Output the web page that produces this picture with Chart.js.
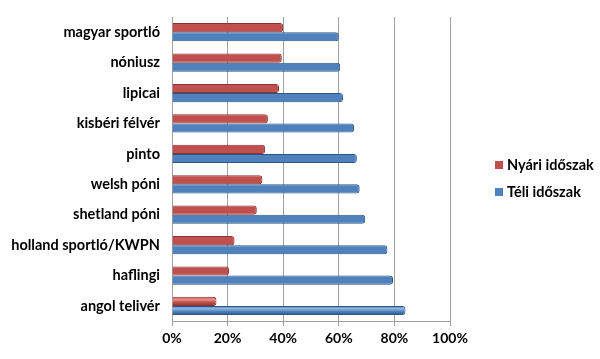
<!DOCTYPE html>
<html>
<head>
<meta charset="utf-8">
<script src="https://cdn.jsdelivr.net/npm/chart.js@4/dist/chart.umd.min.js"></script>
<style>
html,body{margin:0;padding:0;background:#fff;}
#wrap{width:600px;height:359px;position:relative;}
#legend{position:absolute;left:495px;top:155px;font-family:Lato,"Open Sans",sans-serif;font-weight:bold;font-size:14.5px;color:#000;}
#legend .item{position:relative;height:27px;line-height:20px;padding-left:12px;white-space:nowrap;}
#legend .sw{position:absolute;left:0;top:6px;width:8px;height:8px;}
</style>
</head>
<body>
<div id="wrap"><canvas id="c" width="600" height="359"></canvas><div id="legend"></div></div>
<script>
const categories = ["magyar sportló","nóniusz","lipicai","kisbéri félvér","pinto","welsh póni","shetland póni","holland sportló/KWPN","haflingi","angol telivér"];
const summerValues = [40, 39.5, 38.5, 34.5, 33.5, 32.5, 30.5, 22.5, 20.5, 16];
const winterValues = [60, 60.5, 61.5, 65.5, 66.5, 67.5, 69.5, 77.5, 79.5, 84];
const seriesNames = ["Nyári időszak", "Téli időszak"];
const xTicks = [0, 20, 40, 60, 80, 100];

const shades = [
  {light:'#e8908e', base:'#c0504d', dark:'#8a3331'},
  {light:'#92b6e3', base:'#4f81bd', dark:'#2c5587'}
];

const cylinder = {
  id:'cylinder',
  beforeDatasetsDraw(chart){
    const ctx = chart.ctx;
    chart.data.datasets.forEach((ds,i)=>{
      const meta = chart.getDatasetMeta(i);
      const s = shades[i];
      meta.data.forEach(el=>{
        const top = el.y - el.height/2, bot = el.y + el.height/2;
        const g = ctx.createLinearGradient(0, top, 0, bot);
        g.addColorStop(0, s.base);
        g.addColorStop(0.3, s.light);
        g.addColorStop(0.6, s.base);
        g.addColorStop(1, s.dark);
        el.options.backgroundColor = g;
      });
    });
  }
};

Chart.defaults.font.family = 'Lato, "Open Sans", sans-serif';
Chart.defaults.color = '#000';

const chart = new Chart(document.getElementById('c'), {
  type:'bar',
  data:{
    labels: categories,
    datasets:[
      {label: seriesNames[0], data: summerValues, backgroundColor: shades[0].base, borderColor: shades[0].dark, borderWidth: 1, borderSkipped:'start', borderRadius:{topRight:3,bottomRight:3}},
      {label: seriesNames[1], data: winterValues, backgroundColor: shades[1].base, borderColor: shades[1].dark, borderWidth: 1, borderSkipped:'start', borderRadius:{topRight:3,bottomRight:3}}
    ]
  },
  options:{
    indexAxis:'y',
    responsive:false,
    animation:false,
    devicePixelRatio:1,
    layout:{padding:{left:8, right:150, top:17, bottom:8}},
    datasets:{bar:{categoryPercentage:0.6, barPercentage:1.0}},
    scales:{
      x:{
        min:0, max:100,
        afterBuildTicks(axis){ axis.ticks = xTicks.map(v=>({value:v})); },
        ticks:{callback:v=>v+'%', font:{size:14, weight:'bold'}, padding:4, color:'#000'},
        grid:{color:'#a0a0a0', lineWidth:1, drawTicks:true, tickLength:5},
        border:{display:true, color:'#a0a0a0'}
      },
      y:{
        afterFit(axis){ axis.width = 164; },
        ticks:{font:{size:14.5, weight:'bold'}, padding:4, color:'#000'},
        grid:{display:false},
        border:{display:true, color:'#a0a0a0'}
      }
    },
    plugins:{
      legend:{display:false},
      tooltip:{enabled:false}
    }
  },
  plugins:[cylinder]
});

const legendEl = document.getElementById('legend');
chart.data.datasets.forEach((ds,i)=>{
  const item = document.createElement('div');
  item.className = 'item';
  const sw = document.createElement('span');
  sw.className = 'sw';
  sw.style.background = shades[i].base;
  item.appendChild(sw);
  item.appendChild(document.createTextNode(ds.label));
  legendEl.appendChild(item);
});
</script>
</body>
</html>
